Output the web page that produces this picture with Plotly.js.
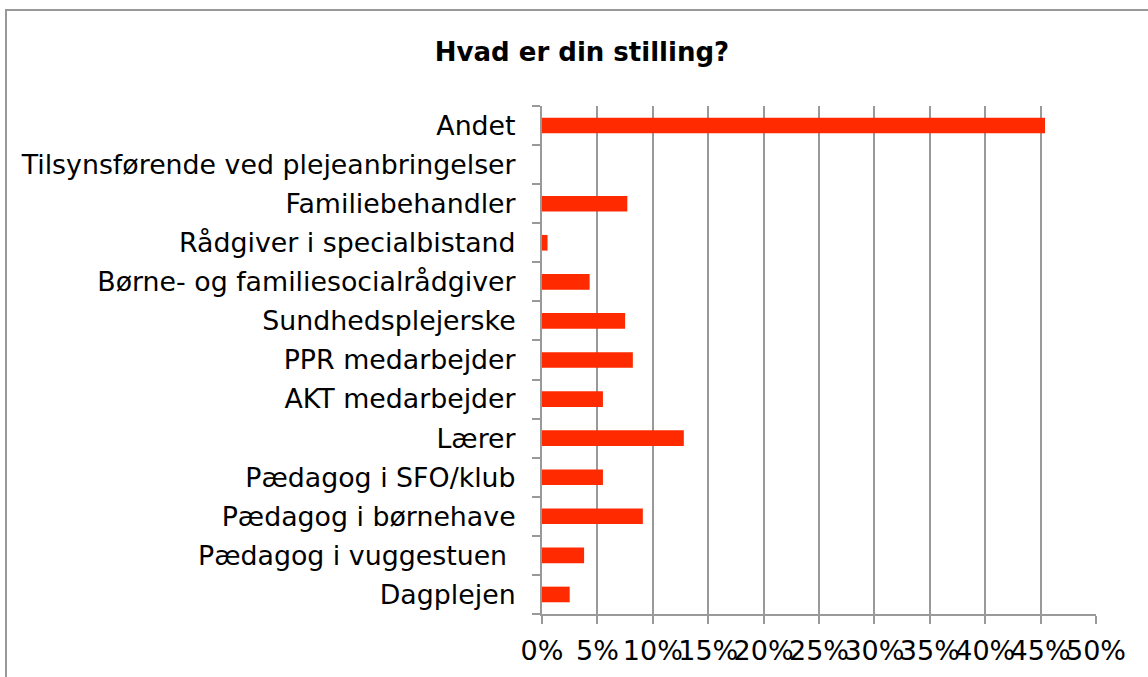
<!DOCTYPE html>
<html>
<head>
<meta charset="utf-8">
<script src="https://cdn.plot.ly/plotly-3.0.1.min.js"></script>
<style>
html, body { margin: 0; padding: 0; background: #fff; overflow: hidden; }
#chart { width: 1148px; height: 677px; }
</style>
</head>
<body>
<div id="chart"></div>
<script>
const categories = [
  "Andet",
  "Tilsynsførende ved plejeanbringelser",
  "Familiebehandler",
  "Rådgiver i specialbistand",
  "Børne- og familiesocialrådgiver",
  "Sundhedsplejerske",
  "PPR medarbejder",
  "AKT medarbejder",
  "Lærer",
  "Pædagog i SFO/klub",
  "Pædagog i børnehave",
  "Pædagog i vuggestuen ",
  "Dagplejen"
];
const shares = [45.4, 0, 7.7, 0.5, 4.3, 7.5, 8.2, 5.5, 12.8, 5.5, 9.1, 3.8, 2.5];
const tickValues = [0, 5, 10, 15, 20, 25, 30, 35, 40, 45, 50];
const tickLabels = ["0%", "5%", "10%", "15%", "20%", "25%", "30%", "35%", "40%", "45%", "50%"];

const W = 1148, H = 677;
const m = { l: 542, r: 52, t: 106, b: 63 };
const pw = W - m.l - m.r, ph = H - m.t - m.b;
const px = v => (v - m.l) / pw;
const py = v => (H - m.b - v) / ph;

const trace = {
  type: "bar",
  orientation: "h",
  x: shares,
  y: categories,
  marker: { color: "#ff2a00", line: { width: 0 } },
  hoverinfo: "x+y"
};

const layout = {
  width: W, height: H,
  margin: m,
  paper_bgcolor: "#ffffff",
  plot_bgcolor: "#ffffff",
  bargap: 0.6,
  showlegend: false,
  font: { family: "DejaVu Sans, Verdana, sans-serif", color: "#000" },
  title: {
    text: "<b>Hvad er din stilling?</b>",
    font: { family: "DejaVu Sans, Verdana, sans-serif", size: 26, color: "#000" },
    x: 582 / W, xanchor: "center",
    y: 1 - 52 / H, yanchor: "middle"
  },
  xaxis: {
    range: [0, 50],
    tickvals: tickValues,
    ticktext: tickLabels,
    tickangle: 0,
    showgrid: true,
    gridcolor: "#999999",
    gridwidth: 2,
    zeroline: false,
    showline: true,
    linecolor: "#999999",
    linewidth: 2,
    ticks: "outside",
    ticklen: 8,
    tickwidth: 2,
    tickcolor: "#999999",
    ticklabelstandoff: 4,
    tickfont: { size: 27, color: "#000" },
    fixedrange: true
  },
  yaxis: {
    categoryorder: "array",
    categoryarray: categories.slice().reverse(),
    autorange: false,
    range: [-0.5, categories.length - 0.5],
    showgrid: false,
    zeroline: false,
    showline: true,
    linecolor: "#999999",
    linewidth: 2,
    ticks: "outside",
    ticklen: 8,
    tickwidth: 2,
    tickcolor: "#999999",
    tickson: "boundaries",
    ticklabelstandoff: 19,
    tickfont: { size: 26.8, color: "#000" },
    fixedrange: true
  },
  shapes: [
    {
      type: "rect", xref: "paper", yref: "paper",
      x0: px(6), x1: px(1200), y0: py(720), y1: py(10),
      line: { color: "#999999", width: 2 }, fillcolor: "rgba(0,0,0,0)",
      layer: "below"
    }
  ]
};

Plotly.newPlot("chart", [trace], layout, { displayModeBar: false, staticPlot: true });
</script>
</body>
</html>
